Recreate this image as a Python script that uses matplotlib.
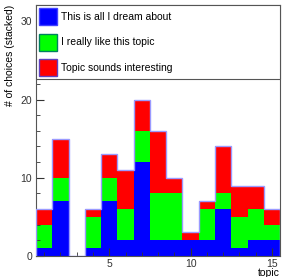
import numpy as np
import matplotlib.pyplot as plt
from matplotlib.patches import Patch
from matplotlib.ticker import MultipleLocator

plt.rcParams['font.family'] = ['Liberation Sans', 'DejaVu Sans']

# stacked choices per topic
topics = np.arange(1, 16)
dream = [1, 7, 0, 1, 7, 2, 12, 2, 2, 2, 2, 6, 1, 2, 2]
like = [3, 3, 0, 4, 3, 4, 4, 6, 6, 0, 4, 2, 4, 4, 2]
interesting = [2, 5, 0, 1, 3, 5, 4, 8, 2, 1, 1, 6, 4, 3, 2]
labels = ['This is all I dream about', 'I really like this topic', 'Topic sounds interesting']

fig = plt.figure(figsize=(2.82, 2.77), dpi=100)
ax = fig.add_axes([0.128, 0.076, 0.865, 0.906])

d = np.array(dream)
l = np.array(like)
r = np.array(interesting)
ax.bar(topics, d, width=1.0, color='#0000ff', linewidth=0)
ax.bar(topics, l, width=1.0, bottom=d, color='#00ff00', linewidth=0)
ax.bar(topics, r, width=1.0, bottom=d + l, color='#ff0000', linewidth=0)

# outline of the stack top
tot = d + l + r
edges = np.append(topics - 0.5, topics[-1] + 0.5)
ax.stairs(tot, edges, color='#9a9aff', linewidth=1.0, zorder=3)

ax.set_xlim(0.5, 15.5)
ax.set_ylim(0, 32.1)
ax.xaxis.set_major_locator(MultipleLocator(5))
ax.xaxis.set_minor_locator(MultipleLocator(1))
ax.yaxis.set_major_locator(MultipleLocator(10))
ax.yaxis.set_minor_locator(MultipleLocator(2))
ax.tick_params(which='both', direction='in', labelsize=7.5, colors='#333333')
ax.tick_params(which='major', length=6)
ax.tick_params(which='minor', length=3)
ax.tick_params(axis='x', pad=2)
ax.tick_params(axis='y', pad=3)
for sp in ax.spines.values():
    sp.set_color('#555555')
    sp.set_linewidth(0.8)

ax.set_ylabel('# of choices (stacked)', loc='top', fontsize=7.5)
ax.set_xlabel('topic', loc='right', fontsize=7.5, labelpad=-0.5)

handles = [Patch(facecolor='#0000ff', edgecolor='#4040ff'),
           Patch(facecolor='#00ff00', edgecolor='#008060'),
           Patch(facecolor='#ff0000', edgecolor='#6040c0')]
leg = ax.legend(handles, labels, loc='upper left', bbox_to_anchor=(0, 0.70, 1, 0.30),
                mode='expand', borderaxespad=0, fancybox=False, fontsize=7.5,
                handlelength=1.75, handleheight=2.1, labelspacing=0.85,
                handletextpad=0.3, borderpad=0.3, framealpha=1)
leg.get_frame().set_edgecolor('#555555')
leg.get_frame().set_linewidth(0.8)

fig.savefig('out.png', dpi=100)
